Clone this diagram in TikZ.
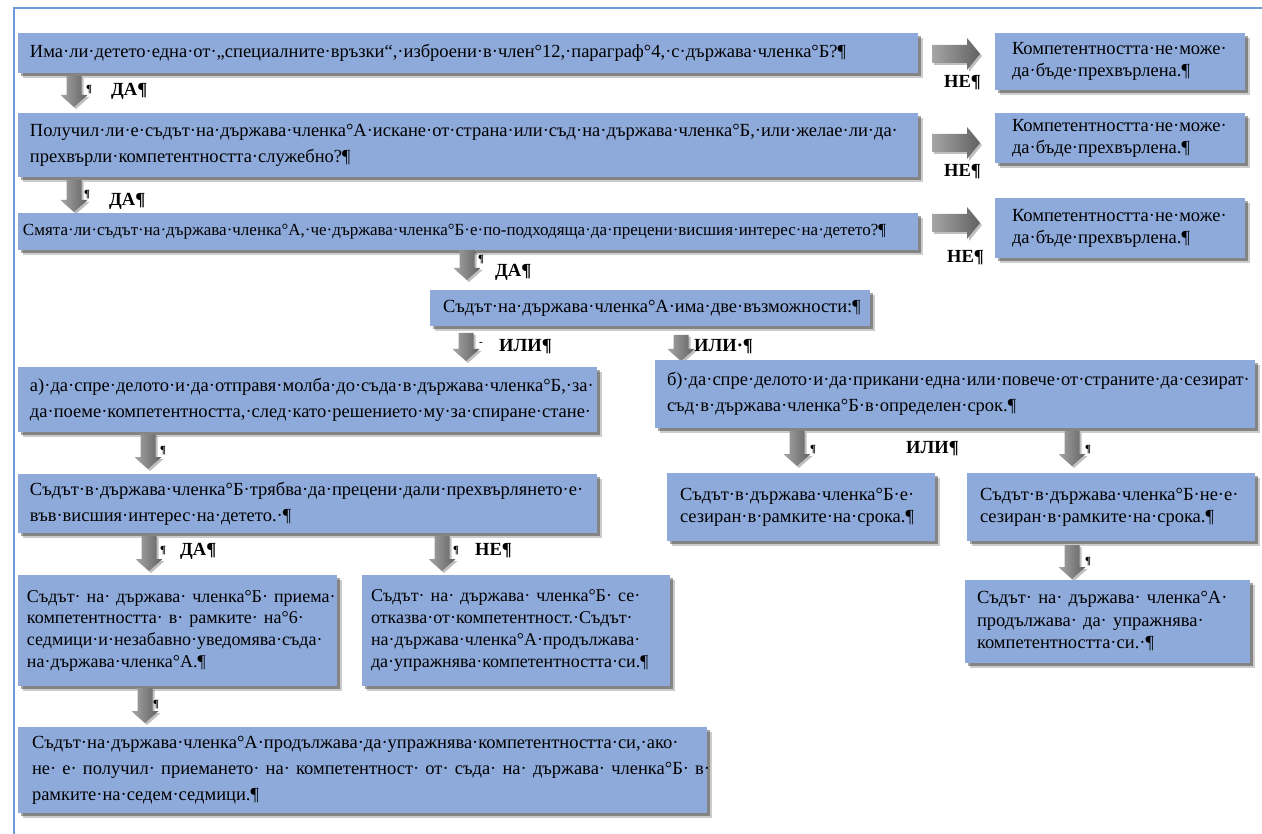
\documentclass[tikz,border=0pt]{standalone}
\usepackage{fontspec}
\setmainfont{Liberation Serif}
\usetikzlibrary{shadows}
\definecolor{boxblue}{HTML}{8EAADB}
\definecolor{framec}{HTML}{6F9AD8}
\tikzset{
  box/.style={fill=boxblue, inner ysep=1pt, align=left,
    general shadow={fill=black, opacity=0.2, shadow xshift=5pt, shadow yshift=-5pt},
    general shadow={fill=black, opacity=0.35, shadow xshift=3pt, shadow yshift=-3pt}},
  fA/.style={font=\fontsize{18.5}{22}\selectfont},
  fB/.style={font=\fontsize{18.5}{26}\selectfont},
  fC/.style={font=\fontsize{17}{20}\selectfont},
  fD/.style={font=\fontsize{18}{21.7}\selectfont},
  fE/.style={font=\fontsize{18.5}{22.5}\selectfont},
  lbl/.style={font=\bfseries\fontsize{18.5}{20}\selectfont, inner sep=0pt, anchor=west},
  pil/.style={font=\bfseries\fontsize{11}{12}\selectfont, inner sep=0pt, anchor=west},
  arr/.style={left color=black!35, right color=black!62,
    general shadow={fill=black, opacity=0.25, shadow xshift=2pt, shadow yshift=-2pt}},
}
\newcommand\jl[1]{\makebox[\linewidth][s]{#1}}
% name, x1, y1, x2, y2, style, xsep, text
\newcommand\bx[8]{\node[box,#6,inner xsep=#7pt,minimum width={#4-#2}, minimum height={#5-#3},
  text width={\dimexpr #4pt-#2pt-#7pt-#7pt\relax}] (#1) at ({(#2+#4)/2},{(#3+#5)/2}) {#8};}
% down arrow: x centre, y top, y bottom
\newcommand\darr[3]{\shade[arr] ({#1-7.5},{#2}) -- ({#1+7.5},{#2}) -- ({#1+7.5},{#3-12}) -- ({#1+13.5},{#3-12})
  -- ({#1},{#3}) -- ({#1-13.5},{#3-12}) -- ({#1-7.5},{#3-12}) -- cycle;}
% right arrow: x left, x right, y centre
\newcommand\rarr[3]{\shade[arr] ({#1},{#3-9}) -- ({#2-13},{#3-9}) -- ({#2-13},{#3-16}) -- ({#2},{#3})
  -- ({#2-13},{#3+16}) -- ({#2-13},{#3+9}) -- ({#1},{#3+9}) -- cycle;}
\begin{document}
\begin{tikzpicture}[x=1pt,y=-1pt]
\useasboundingbox (0,0) rectangle (1262,834);
\fill[white] (0,0) rectangle (1262,834);
\draw[framec, line width=1.2pt] (14,834) -- (14,8) -- (1262,8);

% row 1
\bx{q1}{18}{33}{918}{73}{fA}{12}{Има·ли·детето·една·от·„специалните·връзки“,·изброени·в·член°12,·параграф°4,·с·държава·членка°Б?¶}
\bx{r1}{995}{33}{1245}{90}{fA}{17}{Компетентността·не·може·\\да·бъде·прехвърлена.¶}
\rarr{932}{980}{54}
\node[lbl] (ne1) at (944,83) {НЕ¶};

\darr{74}{76}{107}
\node[pil] (p1) at (86,90) {¶};
\node[lbl] (da1) at (111,91) {ДА¶};

% row 2
\bx{q2}{18}{113}{918}{177}{fB}{12}{Получил·ли·е·съдът·на·държава·членка°А·искане·от·страна·или·съд·на·държава·членка°Б,·или·желае·ли·да·\\прехвърли·компетентността·служебно?¶}
\bx{r2}{995}{113}{1245}{163}{fA}{17}{Компетентността·не·може·\\да·бъде·прехвърлена.¶}
\rarr{932}{980}{143}
\node[lbl] (ne2) at (944,172) {НЕ¶};

\darr{74}{180}{212}
\node[pil] (p2) at (84,195) {¶};
\node[lbl] (da2) at (109,201) {ДА¶};

% row 3
\bx{q3}{18}{213}{918}{250}{fC}{5}{Смята·ли·съдът·на·държава·членка°А,·че·държава·членка°Б·е·по-подходяща·да·прецени·висшия·интерес·на·детето?¶}
\bx{r3}{995}{198}{1245}{258}{fA}{17}{Компетентността·не·може·\\да·бъде·прехвърлена.¶}
\rarr{932}{980}{223}
\node[lbl] (ne3) at (947,258) {НЕ¶};

\darr{467}{250}{280}
\node[pil] (p3) at (478,260) {¶};
\node[lbl] (da3) at (495,272) {ДА¶};

% row 4
\bx{q4}{430}{290}{870}{326}{fA}{13}{Съдът·на·държава·членка°А·има·две·възможности:¶}

\darr{466}{333}{361}
\node[pil] (p4) at (479,344) {-};
\node[lbl] (ili1) at (499,347) {ИЛИ¶};
\darr{681}{335}{361}
\node[lbl] (ili2) at (694,347) {ИЛИ·¶};

% left branch
\bx{qa}{18}{367}{597}{432}{fB}{12}{а)·да·спре·делото·и·да·отправя·молба·до·съда·в·държава·членка°Б,·за·\\да·поеме·компетентността,·след·като·решението·му·за·спиране·стане·}
\darr{148}{434}{469}
\node[pil] (p5) at (160,451) {¶};

\bx{qa2}{18}{474}{597}{533}{fB}{12}{Съдът·в·държава·членка°Б·трябва·да·прецени·дали·прехвърлянето·е·\\във·висшия·интерес·на·детето.·¶}
\darr{149}{536}{571}
\node[pil] (p6) at (160,551) {¶};
\node[lbl] (da4) at (180,551) {ДА¶};
\darr{442}{536}{571}
\node[pil] (p7) at (453,551) {¶};
\node[lbl] (ne4) at (475,551) {НЕ¶};

\bx{qy}{18}{575}{337}{686}{fD}{9}{\jl{Съдът· на· държава· членка°Б· приема·}\\\jl{компетентността· в· рамките· на°6·}\\\jl{седмици·и·незабавно·уведомява·съда·}\\на·държава·членка°А.¶}
\bx{qn}{362}{575}{670}{686}{fD}{9}{\jl{Съдът· на· държава· членка°Б· се·}\\\jl{отказва·от·компетентност.·Съдът·}\\\jl{на·държава·членка°А·продължава·}\\да·упражнява·компетентността·си.¶}

\darr{145}{688}{723}
\node[pil] (p8) at (153,705) {¶};

\bx{qf}{18}{727}{707}{813}{fB}{14}{Съдът·на·държава·членка°А·продължава·да·упражнява·компетентността·си,·ако·\\\jl{не· е· получил· приемането· на· компетентност· от· съда· на· държава· членка°Б· в·}\\рамките·на·седем·седмици.¶}

% right branch
\bx{qb}{655}{360}{1255}{428}{fB}{12}{б)·да·спре·делото·и·да·прикани·една·или·повече·от·страните·да·сезират·\\съд·в·държава·членка°Б·в·определен·срок.¶}
\darr{797}{431}{466}
\node[pil] (p9) at (810,450) {¶};
\node[lbl] (ili3) at (906,449) {ИЛИ¶};
\darr{1072}{431}{466}
\node[pil] (p10) at (1085,450) {¶};

\bx{qb1}{667}{473}{935}{541}{fA}{13}{Съдът·в·държава·членка°Б·е·\\сезиран·в·рамките·на·срока.¶}
\bx{qb2}{967}{473}{1255}{541}{fA}{13}{Съдът·в·държава·членка°Б·не·е·\\сезиран·в·рамките·на·срока.¶}
\darr{1072}{545}{579}
\node[pil] (p11) at (1085,562) {¶};
\bx{qb3}{965}{580}{1250}{663}{fE}{12}{\jl{Съдът· на· държава· членка°А·}\\\jl{продължава· да· упражнява·}\\компетентността·си.·¶}
\end{tikzpicture}
\end{document}
